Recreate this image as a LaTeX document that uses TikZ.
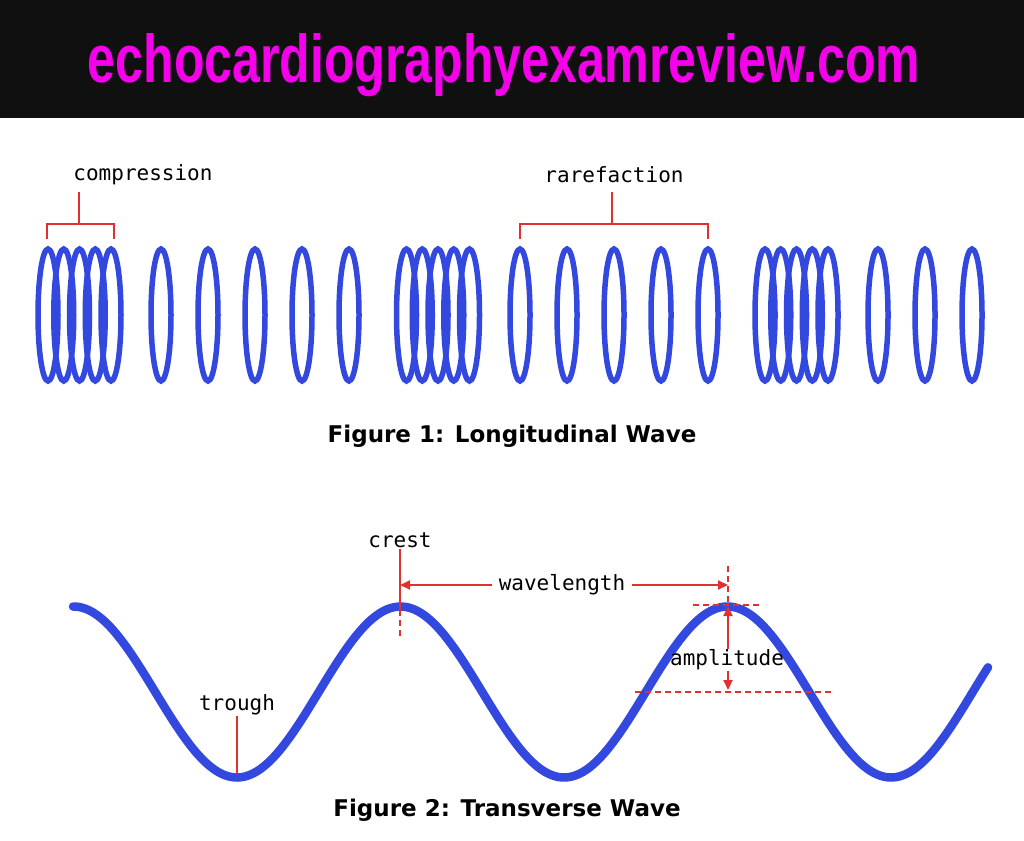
\documentclass[tikz,border=0pt]{standalone}
\usepackage{fontspec}
\usepackage{tikz}
\usetikzlibrary{arrows.meta,positioning}
\newfontfamily\sitefont{Liberation Sans}
\newfontfamily\tagfont{DejaVu Sans Mono}
\newfontfamily\capfont{DejaVu Sans}
\definecolor{site}{RGB}{245,0,235}
\definecolor{bar}{RGB}{16,16,16}
\definecolor{wave}{RGB}{50,72,222}
\definecolor{guide}{RGB}{226,48,48}

\begin{document}
\begin{tikzpicture}[x=1pt, y=-1pt,
    ring/.style={draw=wave, line width=5.5pt},
    waveline/.style={draw=wave, line width=8.5pt, line cap=round},
    tag/.style={font=\tagfont\fontsize{21}{21}\selectfont, inner sep=1pt},
    figcap/.style={font=\capfont\bfseries\fontsize{23}{23}\selectfont},
    guideline/.style={draw=guide, line width=2pt},
    dashline/.style={guideline, dash pattern=on 6pt off 4pt},
    >={Triangle[length=10pt, width=9pt]}
]
\useasboundingbox (0,0) rectangle (1024,840);
\fill[white] (0,0) rectangle (1024,840);

% header
\fill[bar] (0,0) rectangle (1024,118);
\node[anchor=base, inner sep=0pt, text=site] (site) at (504,83)
    {\resizebox{832pt}{49pt}{\sitefont\bfseries echocardiographyexamreview.com}};

% longitudinal wave
\foreach \g in {0,1,2}
  \foreach \i in {0,...,4}
    \draw[ring] ({48+358.5*\g+15.75*\i},315) ellipse[x radius=10pt, y radius=66pt];
\foreach \x in {161,208,255,302,349,520,567,614,661,708,878,925,972}
  \draw[ring] (\x,315) ellipse[x radius=10pt, y radius=66pt];

\node[tag] (comp) at (143,175) {compression};
\node[tag] (rare) at (614,175) {rarefaction};
\coordinate (comp-l) at (47,239);
\coordinate (comp-m) at (79,224);
\coordinate (comp-r) at (114,239);
\coordinate (comp-t) at (79,192);
\coordinate (rare-l) at (520,239);
\coordinate (rare-m) at (612,224);
\coordinate (rare-r) at (708,239);
\coordinate (rare-t) at (612,192);
\draw[guideline] (comp-l) |- (comp-m) -| (comp-r);
\draw[guideline] (comp-m) -- (comp-t);
\draw[guideline] (rare-l) |- (rare-m) -| (rare-r);
\draw[guideline] (rare-m) -- (rare-t);

\node[figcap] (fig1) at (512,436) {Figure 1: Longitudinal Wave};

% transverse wave
\draw[waveline] plot[domain=73:988, samples=240, smooth]
    (\x, {692-85.5*cos(1.100917*(\x-73.5))});

\node[tag] (crest) at (400,540) {crest};
\node[tag, inner xsep=7pt] (wl) at (562,585) {wavelength};
\node[tag] (amp) at (727,660) {amplitude};
\node[tag] (trough) at (237,705) {trough};
\coordinate (crestpk) at (400,610);
\coordinate (crestlo) at (400,638);
\coordinate (wlend) at (728,585);
\coordinate (peak2top) at (728,566);
\coordinate (peak2) at (728,606);
\coordinate (base2) at (728,690);
\coordinate (top-l) at (693,605);
\coordinate (top-r) at (763,605);
\coordinate (low-l) at (635,692);
\coordinate (low-r) at (832,692);
\coordinate (troughpt) at (237,774);

\draw[guideline] (crest) -- (crestpk);
\draw[dashline] (crestpk) -- (crestlo);
\draw[guideline, ->] (wl.west) -- (wl.west -| crestpk);
\draw[guideline, ->] (wl.east) -- (wlend);
\draw[dashline] (peak2top) -- (peak2);
\draw[dashline] (top-l) -- (top-r);
\draw[dashline] (low-l) -- (low-r);
\draw[guideline, ->] (amp.north -| peak2) -- (peak2);
\draw[guideline, ->] (amp.south -| base2) -- (base2);
\draw[guideline] (trough) -- (troughpt);

\node[figcap] (fig2) at (507,810) {Figure 2: Transverse Wave};
\end{tikzpicture}
\end{document}
